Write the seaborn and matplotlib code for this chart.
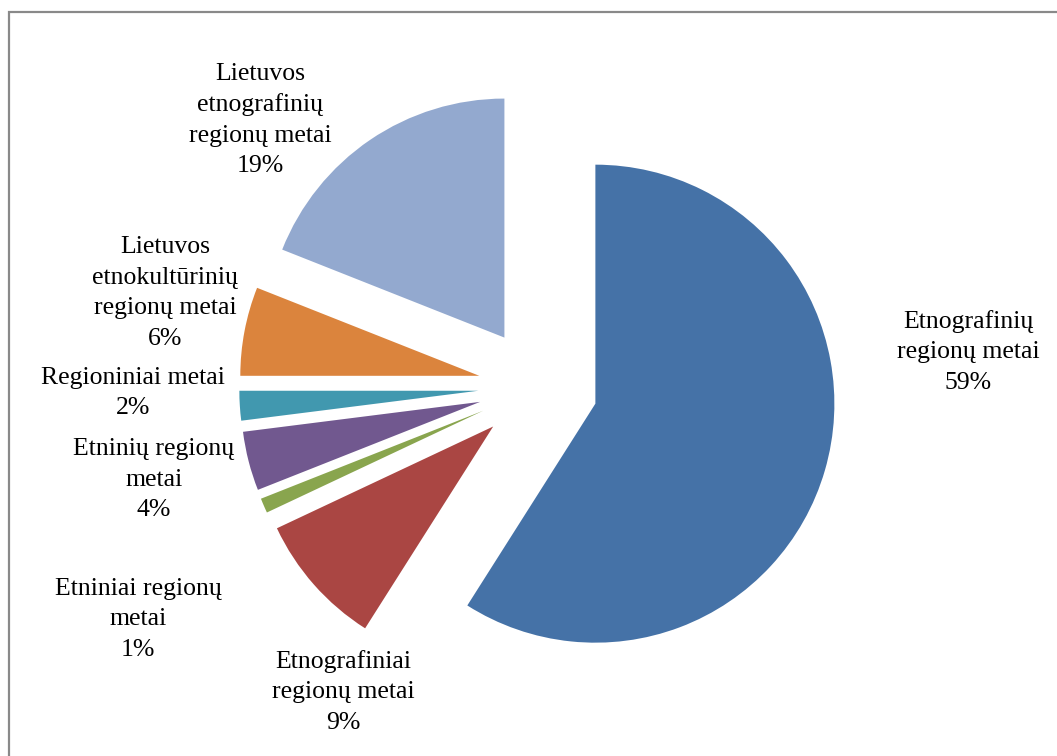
import matplotlib
matplotlib.use("Agg")
import matplotlib.pyplot as plt
import seaborn as sns
from matplotlib.patches import Rectangle

# Survey results: name variants used for the regional-year title
categories = [
    "Etnografinių\nregionų metai",
    "Etnografiniai\nregionų metai",
    "Etniniai regionų\nmetai",
    "Etninių regionų\nmetai",
    "Regioniniai metai",
    "Lietuvos\netnokultūrinių\nregionų metai",
    "Lietuvos\netnografinių\nregionų metai",
]
shares = [59, 9, 1, 4, 2, 6, 19]
colors = ["#4572A7", "#AA4643", "#89A54E", "#71588F", "#4198AF", "#DB843D", "#93A9CF"]

# Label anchor points (pixel space, y measured from the top)
label_xy = [(968, 352), (343, 692), (138, 619), (154, 480), (133, 393), (165, 293), (260, 120)]

W, H = 1057, 756
sns.set_theme(style="white")
plt.rcParams["font.family"] = ["Liberation Serif", "DejaVu Serif"]

fig = plt.figure(figsize=(W / 100, H / 100), dpi=100)
fig.patch.set_facecolor("white")
ax = fig.add_axes([0, 0, 1, 1])

radius = 239
center = (538, H - 387)
ax.pie(
    shares,
    colors=colors,
    startangle=90,
    counterclock=False,
    radius=radius,
    center=center,
    explode=[0.25 * radius] * len(shares),
    wedgeprops=dict(linewidth=0),
)
ax.set_xlim(0, W)
ax.set_ylim(0, H)
ax.set_aspect("equal")
ax.axis("off")

for name, val, (lx, ly) in zip(categories, shares, label_xy):
    ax.text(lx, H - ly, f"{name}\n{val}%", ha="center", va="center",
            fontsize=18.5, color="black", linespacing=1.5)

# Chart-area frame
fig.patches.append(Rectangle((9 / W, -0.1), 1.2, (H - 12) / H + 0.1,
                             transform=fig.transFigure, fill=False,
                             edgecolor="#898989", linewidth=1.6))

fig.savefig("out.png", dpi=100)
